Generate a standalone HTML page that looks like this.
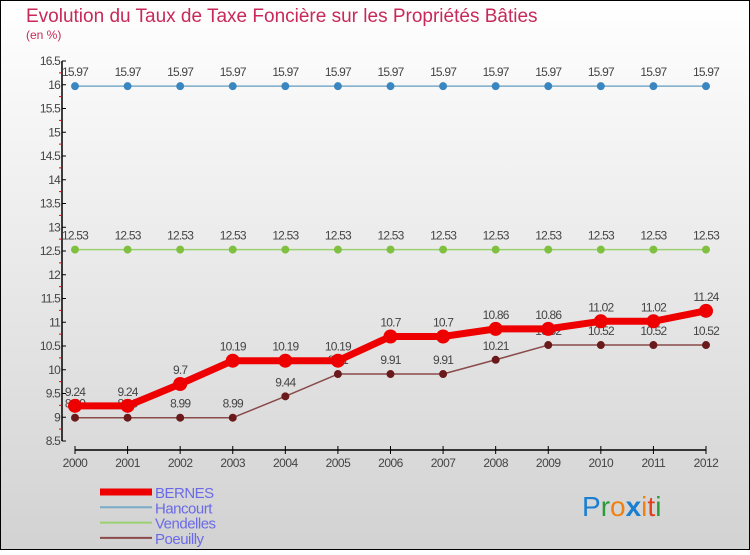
<!DOCTYPE html>
<html><head><meta charset="utf-8"><style>
html,body{margin:0;padding:0}
body{width:750px;height:550px;overflow:hidden;font-family:"Liberation Sans",sans-serif}
</style></head><body>
<svg id="chart" width="750" height="550" xmlns="http://www.w3.org/2000/svg" font-family="Liberation Sans, sans-serif">
<defs><linearGradient id="bg" x1="0" y1="0" x2="0" y2="1"><stop offset="0" stop-color="#ffffff"/><stop offset="1" stop-color="#d2d2d2"/></linearGradient></defs>
<rect x="0.5" y="0.5" width="749" height="549" fill="url(#bg)" stroke="#000"/>
<text x="26" y="22" font-size="19" fill="#c8285a">Evolution du Taux de Taxe Foncière sur les Propriétés Bâties</text>
<text x="26" y="39" font-size="12" fill="#c8285a">(en %)</text>
<g id="axes"></g><g id="series"></g><g id="legend"></g>
<g font-size="28" font-family="Liberation Sans, sans-serif">
<text x="582" y="516"><tspan fill="#1a7fd0">P</tspan><tspan fill="#2a9a3a">r</tspan><tspan fill="#f08010">o</tspan><tspan fill="#1a7fd0" font-weight="bold">x</tspan><tspan fill="#f08010">i</tspan><tspan fill="#e04020">t</tspan><tspan fill="#2a9a3a">i</tspan></text>
</g>
</svg>
<script>
const years = [2000,2001,2002,2003,2004,2005,2006,2007,2008,2009,2010,2011,2012];
const bernes = [9.24,9.24,9.7,10.19,10.19,10.19,10.7,10.7,10.86,10.86,11.02,11.02,11.24];
const hancourt = [15.97,15.97,15.97,15.97,15.97,15.97,15.97,15.97,15.97,15.97,15.97,15.97,15.97];
const vendelles = [12.53,12.53,12.53,12.53,12.53,12.53,12.53,12.53,12.53,12.53,12.53,12.53,12.53];
const poeuilly = [8.99,8.99,8.99,8.99,9.44,9.91,9.91,9.91,10.21,10.52,10.52,10.52,10.52];
const yTicks = [8.5,9,9.5,10,10.5,11,11.5,12,12.5,13,13.5,14,14.5,15,15.5,16,16.5];
const seriesNames = ["BERNES","Hancourt","Vendelles","Poeuilly"];

const NS="http://www.w3.org/2000/svg";
const yMin=8.5,yMax=16.5,yTop=61,yBot=441;
const x0=75,x1=706;
function xs(i){return x0+(x1-x0)*i/(years.length-1);}
function ys(v){return yBot-(v-yMin)/(yMax-yMin)*(yBot-yTop);}
function mk(tag,attrs,parent){const e=document.createElementNS(NS,tag);for(const k in attrs)e.setAttribute(k,attrs[k]);parent.appendChild(e);return e;}
const axes=document.getElementById('axes');
let yl=mk('line',{x1:62,y1:yTop,x2:62,y2:yBot,stroke:'#000','stroke-width':1.5},axes);


yTicks.forEach((v,i)=>{
 const t=mk('line',{x1:62,y1:ys(v),x2:66,y2:ys(v),stroke:'#000'},axes);
 
 
 if(i<yTicks.length-1){const m=mk('line',{x1:59,y1:ys(v+0.25),x2:62,y2:ys(v+0.25),stroke:'#e00'},axes);
 
 }
 const tx=mk('text',{x:60,y:ys(v)+4,'font-size':12,fill:'#444','text-anchor':'end','letter-spacing':'-0.8'},axes);
 
 
 tx.textContent=String(v);
});
let xl=mk('line',{x1:75,y1:450,x2:706,y2:450,stroke:'#000','stroke-width':1.5},axes);


years.forEach((y,i)=>{
 const t=mk('line',{x1:xs(i),y1:446,x2:xs(i),y2:454,stroke:'#000'},axes);
 
 
 const tx=mk('text',{x:xs(i),y:467,'font-size':12,fill:'#444','text-anchor':'middle','letter-spacing':'-0.5'},axes);
 
 
 tx.textContent=String(y);
});
const sg=document.getElementById('series');
function drawSeries(data,name,color,w,r,mcolor){
 const g=mk('g',{},sg);
 
 
 const pts=data.map((v,i)=>xs(i)+','+ys(v)).join(' ');
 const pl=mk('polyline',{points:pts,fill:'none',stroke:color,'stroke-width':w,'stroke-linejoin':'round'},g);
 
 
 data.forEach((v,i)=>{
  const c=mk('circle',{cx:xs(i),cy:ys(v),r:r,fill:mcolor},g);
  
  
  const t=mk('text',{x:xs(i),y:ys(v)-10,'font-size':12,fill:'#444','text-anchor':'middle','letter-spacing':'-0.8'},g);
  
  
  t.textContent=String(v);
 });
}
drawSeries(hancourt,'Hancourt','#7aaac8',1.5,4,'#3a86c0');
drawSeries(vendelles,'Vendelles','#9ad070',1.5,4,'#80c040');
drawSeries(poeuilly,'Poeuilly','#8a4a4a',1.5,4,'#6a1a1a');
drawSeries(bernes,'BERNES','#ee0000',7,7,'#ee0000');
const lg=document.getElementById('legend');
const lcol=['#ee0000','#7aaac8','#9ad070','#8a4a4a'];const lw=[7,2,2,2];
seriesNames.forEach((n,i)=>{
 const y=492+i*15.3;
 const l=mk('line',{x1:100,y1:y,x2:152,y2:y,stroke:lcol[i],'stroke-width':lw[i]},lg);
 
 
 const t=mk('text',{x:155,y:y+6,'font-size':15,fill:'#6a6ae8','letter-spacing':'-0.5'},lg);
 
 
 t.textContent=n;
});
</script>
</body></html>
